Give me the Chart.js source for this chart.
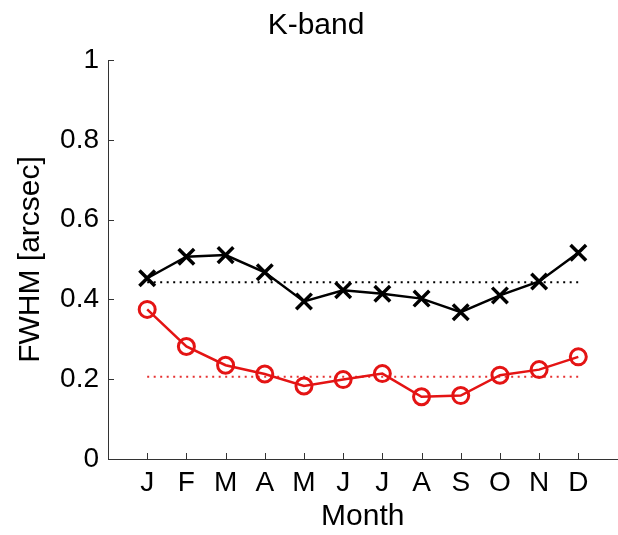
<!DOCTYPE html>
<html><head><meta charset="utf-8">
<script src="https://cdn.jsdelivr.net/npm/chart.js@4.4.0/dist/chart.umd.min.js"></script>
<style>
html,body{margin:0;padding:0;overflow:hidden;background:#fff;width:618px;height:535px}
#wrap{width:632px;height:535px;position:relative}
</style>
</head><body><div id="wrap"><canvas id="c" width="632" height="535"></canvas></div>
<script>
const months = ['J','F','M','A','M','J','J','A','S','O','N','D'];
const monthIndex = [1,2,3,4,5,6,7,8,9,10,11,12];
const blackValues = [0.453,0.507,0.511,0.468,0.395,0.423,0.414,0.402,0.368,0.410,0.445,0.517];
const redValues = [0.375,0.282,0.235,0.213,0.183,0.199,0.214,0.156,0.159,0.210,0.224,0.256];
const blackMean = 0.443;
const redMean = 0.206;
const meanSpan = [1,12];

const FONT = "'Liberation Sans', Arial, sans-serif";

const inwardTicks = {
  id: 'inwardTicks',
  afterDraw(chart) {
    const {ctx, chartArea, scales: {x, y}} = chart;
    ctx.save();
    ctx.strokeStyle = '#333';
    ctx.lineWidth = 1;
    ctx.beginPath();
    y.ticks.forEach(t => {
      const py = Math.round(y.getPixelForValue(t.value)) + 0.5;
      ctx.moveTo(chartArea.left, py);
      ctx.lineTo(chartArea.left + 6, py);
    });
    x.ticks.forEach(t => {
      if (t.value < 1 || t.value > 12) return;
      const px = Math.round(x.getPixelForValue(t.value)) + 0.5;
      ctx.moveTo(px, chartArea.bottom);
      ctx.lineTo(px, chartArea.bottom - 6);
    });
    ctx.stroke();
    ctx.restore();
  }
};

const toPts = (xs, ys) => xs.map((m, i) => ({x: m, y: ys[i]}));

new Chart(document.getElementById('c'), {
  type: 'line',
  data: {
    datasets: [
      {
        data: toPts(monthIndex, blackValues),
        borderColor: '#000', borderWidth: 2.5,
        pointStyle: 'crossRot', pointRadius: 11, pointBorderWidth: 3.5,
        pointBorderColor: '#000', pointBackgroundColor: 'transparent'
      },
      {
        data: toPts(monthIndex, redValues),
        borderColor: 'rgb(228,20,20)', borderWidth: 2.5,
        pointStyle: 'circle', pointRadius: 8, pointBorderWidth: 3,
        pointBorderColor: 'rgb(228,20,20)', pointBackgroundColor: 'transparent'
      },
      {
        data: toPts(meanSpan, [blackMean, blackMean]),
        borderColor: '#000', borderWidth: 2, borderDash: [2, 4.5], pointRadius: 0
      },
      {
        data: toPts(meanSpan, [redMean, redMean]),
        borderColor: 'rgb(230,50,50)', borderWidth: 2, borderDash: [2, 4.5], pointRadius: 0
      }
    ]
  },
  options: {
    responsive: false,
    animation: false,
    devicePixelRatio: 1,
    layout: {padding: 0},
    plugins: {
      legend: {display: false},
      tooltip: {enabled: false},
      title: {
        display: true, text: 'K-band', color: '#000',
        font: {family: FONT, size: 30, weight: 'normal', lineHeight: 1.2},
        padding: {top: 8, bottom: 16}
      }
    },
    scales: {
      x: {
        type: 'linear', min: 0, max: 13,
        grid: {display: false, drawTicks: false},
        border: {display: true, color: '#333', width: 1},
        ticks: {
          stepSize: 1, autoSkip: false, maxRotation: 0, padding: 7, color: '#000',
          font: {family: FONT, size: 28},
          callback: v => (v >= 1 && v <= 12 ? months[v - 1] : '')
        },
        title: {display: true, text: 'Month', color: '#000',
          font: {family: FONT, size: 30, lineHeight: 1.2}, padding: {top: 0, bottom: 0}},
        afterFit: s => { s.height = 76; }
      },
      y: {
        type: 'linear', min: 0, max: 1,
        grid: {display: false, drawTicks: false},
        border: {display: true, color: '#333', width: 1},
        ticks: {
          stepSize: 0.2, padding: 9, color: '#000',
          font: {family: FONT, size: 28},
          callback: v => String(Number(v.toFixed(1)))
        },
        title: {display: true, text: 'FWHM [arcsec]', color: '#000',
          font: {family: FONT, size: 30, lineHeight: 1.2}, padding: {top: 13, bottom: 0}},
        afterFit: s => { s.width = 108; }
      }
    }
  },
  plugins: [inwardTicks]
});
</script>
</body></html>
